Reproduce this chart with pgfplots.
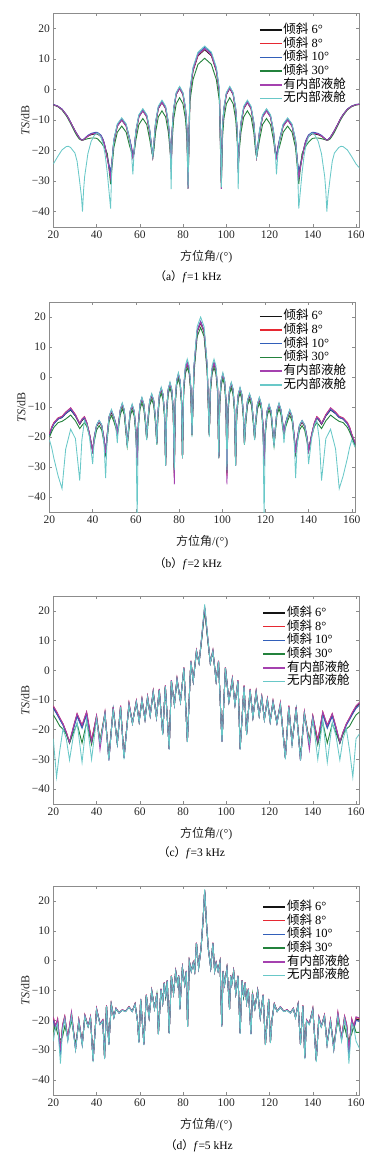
\documentclass[border=0pt]{standalone}
\usepackage{fontspec}
\setmainfont{Liberation Serif}
\newfontfamily\cjk{Noto Sans CJK SC}
\usepackage{pgfplots}
\usepackage{pgfplotstable}
\pgfplotsset{compat=1.18}
\definecolor{cK}{RGB}{20,20,20}
\definecolor{cR}{RGB}{230,40,50}
\definecolor{cB}{RGB}{50,95,185}
\definecolor{cG}{RGB}{35,130,60}
\definecolor{cP}{RGB}{165,65,175}
\definecolor{cC}{RGB}{105,200,200}

\pgfplotstableread{
x k r b g p c
20 -5.0 -5.0 -4.9 -5.1 -5.0 -24.4
22 -5.5 -5.5 -5.4 -5.6 -5.5 -22.0
24 -6.5 -6.5 -6.4 -6.7 -6.5 -19.8
26 -8.3 -8.3 -8.2 -8.6 -8.3 -18.7
27 -9.4 -9.4 -9.3 -9.8 -9.4 -18.6
28 -10.8 -10.8 -10.7 -11.2 -10.8 -19.0
30 -13.5 -13.5 -13.4 -14.0 -13.5 -20.8
31 -14.7 -14.7 -14.6 -15.2 -14.7 -23.5
32 -15.8 -15.8 -15.7 -16.2 -15.8 -29.0
33 -16.5 -16.5 -16.4 -16.6 -16.5 -35.0
33.5 -16.6 -16.6 -16.5 -16.6 -16.6 -40.0
34 -16.4 -16.4 -16.3 -16.5 -16.4 -33.0
34.5 -16.1 -16.1 -16.0 -16.4 -16.1 -28.5
36 -15.3 -15.2 -15.0 -16.1 -15.2 -21.0
37.5 -14.8 -14.6 -14.4 -15.9 -14.6 -17.0
39 -14.6 -14.3 -14.1 -15.9 -14.4 -15.0
40 -14.5 -14.2 -14.0 -16.0 -14.3 -14.4
40.5 -14.6 -14.3 -14.1 -16.2 -14.4 -14.3
42 -15.4 -15.1 -14.9 -17.3 -15.2 -15.5
43 -16.8 -16.5 -16.3 -18.3 -16.6 -17.8
43.5 -17.8 -17.5 -17.3 -18.8 -17.6 -19.5
44 -19.2 -19.0 -18.8 -19.4 -19.0 -21.5
45 -22.5 -22.3 -22.0 -21.0 -22.5 -27.5
46.5 -28.0 -28.0 -27.0 -31.0 -29.0 -39.0
47.1 -24.0 -23.8 -23.5 -26.0 -24.0 -24.5
48.0 -17.0 -16.8 -16.5 -19.0 -17.0 -16.3
49.6 -12.0 -11.8 -11.5 -14.0 -12.0 -11.3
51.65 -10.0 -9.8 -9.5 -12.0 -10.0 -9.3
53.7 -12.0 -11.8 -11.5 -14.0 -12.0 -11.3
55.3 -16.5 -16.3 -16.0 -18.5 -16.5 -16.3
56.2 -19.5 -19.3 -19.0 -20.5 -19.5 -21.5
56.8 -22.0 -22.0 -21.5 -22.0 -22.5 -27.8
57.35 -20.5 -20.3 -20.0 -21.0 -20.8 -20.5
58.2 -14.0 -13.8 -13.5 -16.5 -14.0 -13.3
59.56 -9.0 -8.8 -8.5 -11.5 -9.0 -8.3
61.4 -7.0 -6.8 -6.5 -9.5 -7.0 -6.3
63.24 -9.0 -8.8 -8.5 -11.5 -9.0 -8.3
64.62 -14.0 -13.8 -13.5 -16.5 -14.0 -13.3
65.45 -19.0 -18.8 -18.5 -20.0 -19.0 -19.0
66 -22.0 -22.0 -22.0 -22.0 -22.0 -22.0
66.5 -18.3 -18.1 -17.8 -20.0 -18.2 -17.5
67.3 -11.3 -11.1 -10.8 -14.0 -11.2 -10.5
68.55 -6.3 -6.1 -5.8 -9.0 -6.2 -5.5
70.25 -4.3 -4.1 -3.8 -7.0 -4.2 -3.5
71.95 -6.3 -6.1 -5.8 -9.0 -6.2 -5.5
73.2 -11.3 -11.1 -10.8 -14.0 -11.2 -10.5
74 -18.3 -18.1 -17.8 -20.0 -18.2 -17.5
74.5 -26.0 -26.0 -25.0 -24.0 -27.0 -32.6
74.97 -13.7 -13.5 -13.2 -16.7 -13.6 -13.0
75.67 -6.7 -6.5 -6.2 -9.7 -6.6 -6.0
76.84 -1.7 -1.5 -1.2 -4.7 -1.6 -1.0
78.4 0.3 0.5 0.8 -2.7 0.4 1.0
79.96 -1.7 -1.5 -1.2 -4.7 -1.6 -1.0
81.13 -6.7 -6.5 -6.2 -9.7 -6.6 -6.0
81.83 -13.7 -13.5 -13.2 -16.7 -13.6 -13.0
82.3 -30.0 -30.0 -29.0 -32.5 -32.5 -32.0
83.2 -1.0 -0.7 -0.2 -3.8 -0.7 0.2
84.6 6.0 6.3 6.8 3.2 6.3 7.2
86.9 11.0 11.3 11.8 8.2 11.3 12.2
90 13.0 13.3 13.8 10.2 13.3 14.2
93.1 11.0 11.3 11.8 8.2 11.3 12.2
95.4 6.0 6.3 6.8 3.2 6.3 7.2
96.8 -1.0 -0.7 -0.2 -3.8 -0.7 0.2
97.7 -30.0 -30.0 -29.0 -32.5 -32.5 -32.0
98.17 -13.7 -13.5 -13.2 -16.7 -13.6 -13.0
98.87 -6.7 -6.5 -6.2 -9.7 -6.6 -6.0
100.04 -1.7 -1.5 -1.2 -4.7 -1.6 -1.0
101.6 0.3 0.5 0.8 -2.7 0.4 1.0
103.16 -1.7 -1.5 -1.2 -4.7 -1.6 -1.0
104.33 -6.7 -6.5 -6.2 -9.7 -6.6 -6.0
105.03 -13.7 -13.5 -13.2 -16.7 -13.6 -13.0
105.5 -26.0 -26.0 -25.0 -24.0 -27.0 -32.6
106 -18.3 -18.1 -17.8 -20.0 -18.2 -17.5
106.8 -11.3 -11.1 -10.8 -14.0 -11.2 -10.5
108.05 -6.3 -6.1 -5.8 -9.0 -6.2 -5.5
109.75 -4.3 -4.1 -3.8 -7.0 -4.2 -3.5
111.45 -6.3 -6.1 -5.8 -9.0 -6.2 -5.5
112.7 -11.3 -11.1 -10.8 -14.0 -11.2 -10.5
113.5 -18.3 -18.1 -17.8 -20.0 -18.2 -17.5
114 -22.0 -22.0 -22.0 -22.0 -22.0 -22.0
114.55 -19.0 -18.8 -18.5 -20.0 -19.0 -19.0
115.38 -14.0 -13.8 -13.5 -16.5 -14.0 -13.3
116.76 -9.0 -8.8 -8.5 -11.5 -9.0 -8.3
118.6 -7.0 -6.8 -6.5 -9.5 -7.0 -6.3
120.44 -9.0 -8.8 -8.5 -11.5 -9.0 -8.3
121.8 -14.0 -13.8 -13.5 -16.5 -14.0 -13.3
122.65 -20.5 -20.3 -20.0 -21.0 -20.8 -20.5
123.2 -22.0 -22.0 -21.5 -22.0 -22.5 -27.8
123.8 -19.5 -19.3 -19.0 -20.5 -19.5 -21.5
124.7 -16.5 -16.3 -16.0 -18.5 -16.5 -16.3
126.3 -12.0 -11.8 -11.5 -14.0 -12.0 -11.3
128.35 -10.0 -9.8 -9.5 -12.0 -10.0 -9.3
130.4 -12.0 -11.8 -11.5 -14.0 -12.0 -11.3
132 -17.0 -16.8 -16.5 -19.0 -17.0 -16.3
132.9 -24.0 -23.8 -23.5 -26.0 -24.0 -24.5
133.5 -28.0 -28.0 -27.0 -31.0 -29.0 -39.0
135 -22.5 -22.3 -22.0 -21.0 -22.5 -27.5
136 -19.2 -19.0 -18.8 -19.4 -19.0 -21.5
136.5 -17.8 -17.5 -17.3 -18.8 -17.6 -19.5
137 -16.8 -16.5 -16.3 -18.3 -16.6 -17.8
138 -15.4 -15.1 -14.9 -17.3 -15.2 -15.5
139.5 -14.6 -14.3 -14.1 -16.2 -14.4 -14.3
140 -14.5 -14.2 -14.0 -16.0 -14.3 -14.4
141 -14.6 -14.3 -14.1 -15.9 -14.4 -15.0
142.5 -14.8 -14.6 -14.4 -15.9 -14.6 -17.0
144 -15.3 -15.2 -15.0 -16.1 -15.2 -21.0
145.5 -16.1 -16.1 -16.0 -16.4 -16.1 -28.5
146 -16.4 -16.4 -16.3 -16.5 -16.4 -33.0
146.5 -16.6 -16.6 -16.5 -16.6 -16.6 -40.0
147 -16.5 -16.5 -16.4 -16.6 -16.5 -35.0
148 -15.8 -15.8 -15.7 -16.2 -15.8 -29.0
149 -14.7 -14.7 -14.6 -15.2 -14.7 -23.5
150 -13.5 -13.5 -13.4 -14.0 -13.5 -20.8
152 -10.8 -10.8 -10.7 -11.2 -10.8 -19.0
153 -9.4 -9.4 -9.3 -9.8 -9.4 -18.6
154 -8.3 -8.3 -8.2 -8.6 -8.3 -18.7
156 -6.5 -6.5 -6.4 -6.7 -6.5 -19.8
158 -5.5 -5.5 -5.4 -5.6 -5.5 -22.0
160 -5.0 -5.0 -4.9 -5.1 -5.0 -24.4
162 -4.8 -4.8 -4.7 -4.9 -4.8 -26.0
}\tA

\pgfplotstableread{
x k r b g p c
20 -19.3 -19.0 -19.5 -20.0 -19.0 -21.0
21 -17.0 -16.7 -17.2 -18.3 -16.8 -23.5
22 -15.5 -15.2 -15.7 -16.8 -15.3 -27.0
24 -14.0 -13.6 -14.0 -15.2 -13.7 -33.0
25.8 -13.5 -13.1 -13.5 -14.8 -13.2 -37.2
27.5 -12.2 -11.7 -12.2 -14.0 -11.8 -24.0
29.8 -11.0 -10.3 -10.8 -12.7 -10.3 -17.4
32 -13.0 -12.5 -12.9 -14.6 -12.6 -20.5
34 -15.8 -15.5 -15.6 -17.2 -15.5 -34.5
35 -14.6 -14.0 -14.3 -16.2 -14.1 -21.0
36.2 -13.6 -13.2 -13.5 -15.2 -13.3 -14.5
37.3 -15.5 -15.2 -15.4 -16.5 -15.3 -16.0
38.5 -19.0 -18.8 -19.0 -19.5 -18.9 -20.0
40 -24.6 -24.6 -24.6 -24.6 -24.6 -29.0
40.72 -20.5 -20.2 -20.0 -21.5 -20.2 -21.0
41.8 -16.5 -16.2 -16.0 -17.7 -16.2 -16.0
43 -15.0 -14.7 -14.5 -16.2 -14.7 -14.5
44.2 -16.5 -16.2 -16.0 -17.7 -16.2 -16.0
45.28 -21.0 -20.7 -20.5 -22.0 -20.7 -22.5
46 -25.4 -25.4 -25.0 -25.4 -25.4 -33.7
46.65 -20.1 -19.8 -19.6 -21.3 -19.8 -21.0
47.62 -13.6 -13.3 -13.1 -14.8 -13.3 -13.1
48.7 -11.6 -11.3 -11.1 -12.8 -11.3 -10.8
49.78 -13.6 -13.3 -13.1 -14.8 -13.3 -13.1
50.75 -16.0 -15.7 -15.5 -17.0 -15.7 -16.5
51.4 -19.0 -19.0 -18.5 -19.5 -19.0 -22.0
51.95 -16.0 -15.7 -15.5 -17.2 -15.7 -16.5
52.78 -11.4 -11.1 -10.9 -12.6 -11.1 -10.9
53.7 -9.4 -9.1 -8.9 -10.6 -9.1 -8.6
54.62 -11.4 -11.1 -10.9 -12.6 -11.1 -10.9
55.45 -17.9 -17.6 -17.4 -18.9 -17.6 -17.4
56 -22.6 -22.6 -22.0 -23.0 -22.6 -23.5
56.55 -18.3 -18.0 -17.8 -19.5 -18.0 -17.8
57.38 -11.8 -11.5 -11.3 -13.0 -11.5 -11.3
58.3 -9.8 -9.5 -9.3 -11.0 -9.5 -9.0
59.22 -11.8 -11.5 -11.3 -13.0 -11.5 -11.3
60.05 -18.3 -18.0 -17.8 -19.5 -18.0 -18.5
60.6 -29.0 -29.0 -28.0 -29.5 -29.5 -47.0
61.13 -16.0 -15.7 -15.5 -17.2 -15.7 -17.0
61.92 -9.5 -9.2 -9.0 -10.7 -9.2 -9.0
62.8 -7.5 -7.2 -7.0 -8.7 -7.2 -6.7
63.68 -9.5 -9.2 -9.0 -10.7 -9.2 -9.0
64.47 -15.0 -14.7 -14.5 -16.0 -14.7 -14.5
65 -20.4 -20.4 -20.0 -20.8 -20.4 -21.0
65.56 -14.8 -14.5 -14.3 -16.0 -14.5 -14.3
66.41 -8.3 -8.0 -7.8 -9.5 -8.0 -7.8
67.35 -6.3 -6.0 -5.8 -7.5 -6.0 -5.5
68.29 -8.3 -8.0 -7.8 -9.5 -8.0 -7.8
69.14 -14.8 -14.5 -14.3 -16.0 -14.5 -14.3
69.7 -22.0 -22.0 -21.5 -22.5 -22.0 -22.5
70.19 -12.7 -12.4 -12.2 -13.9 -12.4 -12.2
70.93 -6.2 -5.9 -5.7 -7.4 -5.9 -5.7
71.75 -4.2 -3.9 -3.7 -5.4 -3.9 -3.4
72.57 -6.2 -5.9 -5.7 -7.4 -5.9 -5.7
73.31 -12.7 -12.4 -12.2 -13.9 -12.4 -12.2
73.8 -29.2 -29.2 -28.5 -29.5 -29.5 -29.5
74.28 -11.0 -10.7 -10.5 -12.2 -10.7 -10.5
75 -4.5 -4.2 -4.0 -5.7 -4.2 -4.0
75.8 -2.5 -2.2 -2.0 -3.7 -2.2 -1.7
76.6 -4.5 -4.2 -4.0 -5.7 -4.2 -4.0
77.32 -11.0 -10.7 -10.5 -12.2 -10.7 -10.5
77.8 -32.0 -33.0 -31.0 -32.0 -35.8 -31.0
78.26 -8.0 -7.7 -7.5 -9.2 -7.7 -7.5
78.94 -1.5 -1.2 -1.0 -2.7 -1.2 -1.0
79.7 0.5 0.8 1.0 -0.7 0.8 1.5
80.46 -1.5 -1.2 -1.0 -2.7 -1.2 -1.0
81.14 -8.0 -7.7 -7.5 -9.2 -7.7 -7.5
81.6 -27.0 -27.0 -26.5 -27.0 -27.0 -27.0
82.13 -4.2 -3.9 -3.7 -5.4 -3.9 -3.2
82.92 2.3 2.6 2.8 1.1 2.6 3.8
83.8 4.3 4.6 4.8 3.1 4.6 6.0
84.68 2.3 2.6 2.8 1.1 2.6 3.8
85.47 -4.2 -3.9 -3.7 -5.4 -3.9 -3.2
86 -19.3 -19.3 -19.0 -19.5 -19.3 -20.0
86.96 3.0 3.3 3.5 1.5 3.3 4.5
88.4 15.0 15.3 15.6 13.5 15.3 16.8
90 18.0 18.3 18.6 16.5 18.3 20.0
91.6 15.0 15.3 15.6 13.5 15.3 16.8
93.04 3.0 3.3 3.5 1.5 3.3 4.5
94 -19.3 -19.3 -19.0 -19.5 -19.3 -20.0
94.53 -4.2 -3.9 -3.7 -5.4 -3.9 -3.2
95.32 2.3 2.6 2.8 1.1 2.6 3.8
96.2 4.3 4.6 4.8 3.1 4.6 6.0
97.08 2.3 2.6 2.8 1.1 2.6 3.8
97.87 -4.2 -3.9 -3.7 -5.4 -3.9 -3.2
98.4 -27.0 -27.0 -26.5 -27.0 -27.0 -27.0
98.86 -8.0 -7.7 -7.5 -9.2 -7.7 -7.5
99.54 -1.5 -1.2 -1.0 -2.7 -1.2 -1.0
100.3 0.5 0.8 1.0 -0.7 0.8 1.5
101.06 -1.5 -1.2 -1.0 -2.7 -1.2 -1.0
101.74 -8.0 -7.7 -7.5 -9.2 -7.7 -7.5
102.2 -32.0 -33.0 -31.0 -32.0 -35.8 -31.0
102.68 -11.0 -10.7 -10.5 -12.2 -10.7 -10.5
103.4 -4.5 -4.2 -4.0 -5.7 -4.2 -4.0
104.2 -2.5 -2.2 -2.0 -3.7 -2.2 -1.7
105 -4.5 -4.2 -4.0 -5.7 -4.2 -4.0
105.72 -11.0 -10.7 -10.5 -12.2 -10.7 -10.5
106.2 -29.2 -29.2 -28.5 -29.5 -29.5 -29.5
106.69 -12.7 -12.4 -12.2 -13.9 -12.4 -12.2
107.43 -6.2 -5.9 -5.7 -7.4 -5.9 -5.7
108.25 -4.2 -3.9 -3.7 -5.4 -3.9 -3.4
109.07 -6.2 -5.9 -5.7 -7.4 -5.9 -5.7
109.81 -12.7 -12.4 -12.2 -13.9 -12.4 -12.2
110.3 -22.0 -22.0 -21.5 -22.5 -22.0 -22.5
110.86 -14.8 -14.5 -14.3 -16.0 -14.5 -14.3
111.71 -8.3 -8.0 -7.8 -9.5 -8.0 -7.8
112.65 -6.3 -6.0 -5.8 -7.5 -6.0 -5.5
113.59 -8.3 -8.0 -7.8 -9.5 -8.0 -7.8
114.44 -14.8 -14.5 -14.3 -16.0 -14.5 -14.3
115 -20.4 -20.4 -20.0 -20.8 -20.4 -21.0
115.53 -15.0 -14.7 -14.5 -16.0 -14.7 -14.5
116.32 -9.5 -9.2 -9.0 -10.7 -9.2 -9.0
117.2 -7.5 -7.2 -7.0 -8.7 -7.2 -6.7
118.08 -9.5 -9.2 -9.0 -10.7 -9.2 -9.0
118.87 -16.0 -15.7 -15.5 -17.2 -15.7 -17.0
119.4 -29.0 -29.0 -28.0 -29.5 -29.5 -47.0
119.95 -18.3 -18.0 -17.8 -19.5 -18.0 -18.5
120.78 -11.8 -11.5 -11.3 -13.0 -11.5 -11.3
121.7 -9.8 -9.5 -9.3 -11.0 -9.5 -9.0
122.62 -11.8 -11.5 -11.3 -13.0 -11.5 -11.3
123.45 -18.3 -18.0 -17.8 -19.5 -18.0 -17.8
124 -22.6 -22.6 -22.0 -23.0 -22.6 -23.5
124.55 -17.9 -17.6 -17.4 -18.9 -17.6 -17.4
125.38 -11.4 -11.1 -10.9 -12.6 -11.1 -10.9
126.3 -9.4 -9.1 -8.9 -10.6 -9.1 -8.6
127.22 -11.4 -11.1 -10.9 -12.6 -11.1 -10.9
128.05 -16.0 -15.7 -15.5 -17.2 -15.7 -16.5
128.6 -19.0 -19.0 -18.5 -19.5 -19.0 -22.0
129.25 -16.0 -15.7 -15.5 -17.0 -15.7 -16.5
130.22 -13.6 -13.3 -13.1 -14.8 -13.3 -13.1
131.3 -11.6 -11.3 -11.1 -12.8 -11.3 -10.8
132.38 -13.6 -13.3 -13.1 -14.8 -13.3 -13.1
133.35 -20.1 -19.8 -19.6 -21.3 -19.8 -21.0
134 -25.4 -25.4 -25.0 -25.4 -25.4 -33.7
134.72 -21.0 -20.7 -20.5 -22.0 -20.7 -22.5
135.8 -16.5 -16.2 -16.0 -17.7 -16.2 -16.0
137 -15.0 -14.7 -14.5 -16.2 -14.7 -14.5
138.2 -16.5 -16.2 -16.0 -17.7 -16.2 -16.0
139.28 -20.5 -20.2 -20.0 -21.5 -20.2 -21.0
140 -24.6 -24.6 -24.6 -24.6 -24.6 -29.0
141.5 -19.0 -18.8 -19.0 -19.5 -18.9 -20.0
142.7 -15.5 -15.2 -15.4 -16.5 -15.3 -16.0
143.8 -13.6 -13.2 -13.5 -15.2 -13.3 -14.5
145 -14.6 -14.0 -14.3 -16.2 -14.1 -21.0
146 -15.8 -15.5 -15.6 -17.2 -15.5 -34.5
148 -13.0 -12.5 -12.9 -14.6 -12.6 -20.5
150.2 -11.0 -10.3 -10.8 -12.7 -10.3 -17.4
152.5 -12.2 -11.7 -12.2 -14.0 -11.8 -24.0
154.2 -13.5 -13.1 -13.5 -14.8 -13.2 -37.2
156 -14.0 -13.6 -14.0 -15.2 -13.7 -33.0
158 -15.5 -15.2 -15.7 -16.8 -15.3 -27.0
159 -17.0 -16.7 -17.2 -18.3 -16.8 -23.5
160 -19.3 -19.0 -19.5 -20.0 -19.0 -21.0
162 -23.0 -22.7 -23.2 -24.0 -22.7 -24.0
}\tB

\pgfplotstableread{
x k r b g p c
20 -12.4 -12.0 -12.8 -15.0 -12.0 -23.0
21.5 -14.3 -13.9 -14.6 -16.8 -13.9 -36.0
23 -16.3 -16.0 -16.6 -18.8 -16.0 -27.0
24.5 -18.3 -18.0 -18.5 -19.8 -18.0 -19.7
26 -21.0 -20.8 -21.2 -21.5 -20.8 -23.0
27.5 -24.4 -24.2 -24.5 -24.5 -24.2 -30.2
29.3 -19.5 -19.0 -19.8 -21.0 -19.0 -22.0
31 -15.0 -14.6 -15.5 -18.0 -14.6 -17.5
33.3 -19.0 -18.5 -19.5 -24.5 -18.5 -31.0
35.4 -14.5 -14.0 -15.0 -17.5 -14.0 -16.5
37.7 -24.0 -23.5 -24.5 -25.0 -24.0 -30.0
40 -15.6 -15.3 -15.9 -16.5 -15.3 -16.3
41.6 -24.0 -24.0 -24.5 -24.0 -26.7 -24.5
43.9 -14.4 -14.1 -14.7 -15.0 -14.1 -14.6
45.7 -30.0 -30.0 -30.0 -29.0 -30.4 -30.4
47.7 -12.7 -12.4 -13.0 -13.2 -12.4 -12.9
49.6 -24.7 -24.7 -24.7 -24.0 -24.7 -24.7
51.1 -12.2 -11.9 -12.5 -12.6 -11.9 -12.4
52.7 -29.5 -29.5 -29.5 -29.0 -29.5 -30.0
55 -11.3 -11.0 -11.6 -11.7 -11.0 -11.5
56.6 -17.8 -17.8 -17.8 -17.5 -17.8 -18.0
58.4 -10.5 -10.3 -10.7 -10.9 -10.3 -10.6
59.7 -17.2 -17.2 -17.2 -17.0 -17.2 -17.5
61 -9.8 -9.6 -10.0 -10.2 -9.6 -9.9
62.4 -16.5 -16.5 -16.5 -16.3 -16.5 -16.8
63.6 -9.0 -8.8 -9.2 -9.4 -8.8 -9.1
64.8 -15.2 -15.2 -15.2 -15.0 -15.2 -15.5
66.2 -7.2 -7.0 -7.4 -7.6 -7.0 -7.3
67.7 -15.8 -15.8 -15.8 -15.6 -15.8 -16.0
69 -6.5 -6.3 -6.7 -6.9 -6.3 -6.6
70.6 -21.5 -21.5 -21.5 -21.0 -21.5 -21.8
71.8 -5.3 -5.1 -5.5 -5.7 -5.1 -5.4
73.6 -26.5 -26.5 -26.5 -26.0 -26.5 -26.7
74.6 -3.5 -3.3 -3.7 -3.9 -3.3 -3.6
76 -11.5 -11.5 -11.5 -11.3 -11.5 -11.8
77.2 -2.9 -2.7 -3.1 -3.3 -2.7 -3.0
78.8 -10.5 -10.5 -10.5 -10.3 -10.5 -10.8
80.4 0.8 1.0 0.6 0.4 1.0 0.8
82 -24.0 -24.0 -24.0 -23.5 -24.0 -24.2
83.6 3.0 3.2 2.8 2.6 3.2 3.0
84.7 -3.6 -3.6 -3.6 -3.4 -3.6 -3.8
86.2 6.5 6.7 6.3 6.1 6.7 6.5
87.4 2.5 2.5 2.5 2.7 2.5 2.3
88.5 10.0 10.2 9.8 9.6 10.2 10.5
90 21.0 21.3 20.8 20.3 21.3 22.2
91.5 10.0 10.2 9.8 9.6 10.2 10.5
92.6 2.5 2.5 2.5 2.7 2.5 2.3
93.8 6.5 6.7 6.3 6.1 6.7 6.5
95.3 -3.6 -3.6 -3.6 -3.4 -3.6 -3.8
96.4 3.0 3.2 2.8 2.6 3.2 3.0
98 -24.0 -24.0 -24.0 -23.5 -24.0 -24.2
99.6 0.8 1.0 0.6 0.4 1.0 0.8
101.2 -10.5 -10.5 -10.5 -10.3 -10.5 -10.8
102.8 -2.9 -2.7 -3.1 -3.3 -2.7 -3.0
104 -11.5 -11.5 -11.5 -11.3 -11.5 -11.8
105.4 -3.5 -3.3 -3.7 -3.9 -3.3 -3.6
106.4 -26.5 -26.5 -26.5 -26.0 -26.5 -26.7
108.2 -5.3 -5.1 -5.5 -5.7 -5.1 -5.4
109.4 -21.5 -21.5 -21.5 -21.0 -21.5 -21.8
111 -6.5 -6.3 -6.7 -6.9 -6.3 -6.6
112.3 -15.8 -15.8 -15.8 -15.6 -15.8 -16.0
113.8 -7.2 -7.0 -7.4 -7.6 -7.0 -7.3
115.2 -15.2 -15.2 -15.2 -15.0 -15.2 -15.5
116.4 -9.0 -8.8 -9.2 -9.4 -8.8 -9.1
117.6 -16.5 -16.5 -16.5 -16.3 -16.5 -16.8
119 -9.8 -9.6 -10.0 -10.2 -9.6 -9.9
120.3 -17.2 -17.2 -17.2 -17.0 -17.2 -17.5
121.6 -10.5 -10.3 -10.7 -10.9 -10.3 -10.6
123.4 -17.8 -17.8 -17.8 -17.5 -17.8 -18.0
125 -11.3 -11.0 -11.6 -11.7 -11.0 -11.5
127.3 -29.5 -29.5 -29.5 -29.0 -29.5 -30.0
128.9 -12.2 -11.9 -12.5 -12.6 -11.9 -12.4
130.4 -24.7 -24.7 -24.7 -24.0 -24.7 -24.7
132.3 -12.7 -12.4 -13.0 -13.2 -12.4 -12.9
134.3 -30.0 -30.0 -30.0 -29.0 -30.4 -30.4
136.1 -14.4 -14.1 -14.7 -15.0 -14.1 -14.6
138.4 -24.0 -24.0 -24.5 -24.0 -26.7 -24.5
140 -15.6 -15.3 -15.9 -16.5 -15.3 -16.3
142.3 -24.0 -23.5 -24.5 -25.0 -24.0 -30.0
144.6 -14.5 -14.0 -15.0 -17.5 -14.0 -16.5
146.7 -19.0 -18.5 -19.5 -24.5 -18.5 -31.0
149 -15.0 -14.6 -15.5 -18.0 -14.6 -17.5
150.7 -19.5 -19.0 -19.8 -21.0 -19.0 -22.0
152.5 -24.4 -24.2 -24.5 -24.5 -24.2 -30.2
154 -21.0 -20.8 -21.2 -21.5 -20.8 -23.0
155.5 -18.3 -18.0 -18.5 -19.8 -18.0 -19.7
157 -16.3 -16.0 -16.6 -18.8 -16.0 -27.0
158.5 -14.3 -13.9 -14.6 -16.8 -13.9 -36.0
160 -12.4 -12.0 -12.8 -15.0 -12.0 -23.0
162 -11.0 -10.6 -11.4 -13.8 -10.6 -21.0
}\tC

\pgfplotstableread{
x k r b g p c
20 -19.5 -19.0 -20.0 -24.0 -18.8 -27.0
21 -22.5 -22.0 -23.0 -21.5 -22.0 -22.5
22 -20.0 -19.5 -20.5 -24.5 -19.5 -21.0
23.3 -30.0 -30.0 -32.0 -26.5 -30.0 -34.5
24.3 -22.0 -21.5 -22.5 -25.5 -21.5 -23.0
25.3 -19.0 -18.6 -19.5 -22.0 -18.6 -19.5
26.7 -26.0 -26.0 -26.5 -25.5 -26.0 -27.0
28.4 -18.0 -17.5 -18.5 -20.0 -17.2 -18.5
30.3 -29.5 -29.5 -29.5 -28.0 -29.5 -30.0
31.8 -20.0 -19.8 -20.3 -21.0 -19.8 -20.3
33.4 -28.0 -28.0 -28.0 -27.5 -28.0 -28.5
34.6 -18.4 -18.2 -18.6 -19.0 -18.2 -18.6
36.1 -22.0 -22.0 -22.0 -22.0 -22.0 -22.3
37.2 -19.0 -18.8 -19.2 -19.4 -18.8 -19.2
38.4 -33.5 -33.5 -33.5 -33.0 -33.5 -34.0
40 -16.2 -16.0 -16.4 -16.5 -16.0 -16.4
41.6 -21.2 -21.2 -21.2 -21.0 -21.2 -21.5
42.9 -20.0 -19.8 -20.2 -20.3 -19.8 -20.2
43.7 -32.5 -32.5 -32.5 -32.0 -32.5 -33.0
44.6 -15.1 -15.0 -15.2 -15.3 -15.0 -15.2
45.7 -28.0 -28.0 -28.0 -27.5 -28.0 -28.3
46.8 -14.6 -14.5 -14.7 -14.8 -14.5 -14.7
48 -19.0 -19.0 -19.0 -18.8 -19.0 -19.2
49 -16.0 -15.9 -16.1 -16.2 -15.9 -16.1
50.4 -17.5 -17.5 -17.5 -17.4 -17.5 -17.6
51.9 -16.5 -16.4 -16.6 -16.6 -16.4 -16.6
53.4 -17.0 -17.0 -17.0 -16.9 -17.0 -17.1
55 -15.5 -15.4 -15.6 -15.6 -15.4 -15.6
56.5 -17.0 -17.0 -17.0 -16.9 -17.0 -17.1
57.8 -14.5 -14.4 -14.6 -14.6 -14.4 -14.6
58.9 -20.0 -20.0 -20.0 -19.8 -20.0 -20.2
59.6 -27.3 -27.3 -27.3 -27.0 -27.3 -27.6
60.4 -12.9 -12.8 -13.0 -13.0 -12.8 -13.0
61.9 -28.0 -28.0 -28.0 -27.5 -28.0 -28.3
63 -11.5 -11.4 -11.6 -11.6 -11.4 -11.6
64.3 -19.0 -19.0 -19.0 -18.8 -19.0 -19.2
65.5 -10.0 -9.9 -10.1 -10.1 -9.9 -10.1
66.8 -16.0 -16.0 -16.0 -15.8 -16.0 -16.2
67.9 -11.0 -10.9 -11.1 -11.1 -10.9 -11.1
68.6 -24.5 -24.5 -24.5 -24.0 -24.5 -24.8
69.8 -9.5 -9.4 -9.6 -9.6 -9.4 -9.6
70.6 -14.0 -14.0 -14.0 -13.8 -14.0 -14.2
71.3 -7.4 -7.3 -7.5 -7.5 -7.3 -7.5
72.0 -12.0 -12.0 -12.0 -11.8 -12.0 -12.2
72.7 -6.6 -6.5 -6.7 -6.7 -6.5 -6.7
73.6 -24.3 -24.3 -24.3 -24.0 -24.3 -24.5
74.6 -5.1 -5.0 -5.2 -5.2 -5.0 -5.2
75.6 -11.0 -11.0 -11.0 -10.8 -11.0 -11.2
76.6 -3.5 -3.4 -3.6 -3.6 -3.4 -3.6
77.5 -8.0 -8.0 -8.0 -7.8 -8.0 -8.2
78.0 -5.0 -4.9 -5.1 -5.1 -4.9 -5.1
78.5 -16.2 -16.2 -16.2 -16.0 -16.2 -16.4
79.7 -2.4 -2.3 -2.5 -2.5 -2.3 -2.5
80.8 -8.0 -8.0 -8.0 -7.8 -8.0 -8.2
81.5 -3.5 -3.4 -3.6 -3.6 -3.4 -3.6
82.1 -22.0 -22.0 -22.0 -21.5 -22.0 -22.2
82.9 -0.2 -0.1 -0.3 -0.3 -0.1 -0.3
83.8 -3.5 -3.5 -3.5 -3.3 -3.5 -3.7
84.7 -0.7 -0.6 -0.8 -0.8 -0.6 -0.8
85.4 -3.5 -3.5 -3.5 -3.3 -3.5 -3.7
86.2 5.9 6.0 5.8 5.8 6.0 5.8
87.2 -2.4 -2.4 -2.4 -2.2 -2.4 -2.6
88.3 4.0 4.1 3.9 3.9 4.1 4.0
89.2 13.0 13.1 12.9 12.8 13.1 13.2
90 23.5 23.6 23.4 23.2 23.6 23.9
90.8 13.0 13.1 12.9 12.8 13.1 13.2
91.7 4.0 4.1 3.9 3.9 4.1 4.0
92.8 -2.4 -2.4 -2.4 -2.2 -2.4 -2.6
93.8 5.9 6.0 5.8 5.8 6.0 5.8
94.6 -3.5 -3.5 -3.5 -3.3 -3.5 -3.7
95.3 -0.7 -0.6 -0.8 -0.8 -0.6 -0.8
96.2 -3.5 -3.5 -3.5 -3.3 -3.5 -3.7
97.1 -0.2 -0.1 -0.3 -0.3 -0.1 -0.3
97.9 -22.0 -22.0 -22.0 -21.5 -22.0 -22.2
98.5 -3.5 -3.4 -3.6 -3.6 -3.4 -3.6
99.2 -8.0 -8.0 -8.0 -7.8 -8.0 -8.2
100.3 -2.4 -2.3 -2.5 -2.5 -2.3 -2.5
101.5 -16.2 -16.2 -16.2 -16.0 -16.2 -16.4
102 -5.0 -4.9 -5.1 -5.1 -4.9 -5.1
102.5 -8.0 -8.0 -8.0 -7.8 -8.0 -8.2
103.4 -3.5 -3.4 -3.6 -3.6 -3.4 -3.6
104.4 -11.0 -11.0 -11.0 -10.8 -11.0 -11.2
105.4 -5.1 -5.0 -5.2 -5.2 -5.0 -5.2
106.4 -24.3 -24.3 -24.3 -24.0 -24.3 -24.5
107.3 -6.6 -6.5 -6.7 -6.7 -6.5 -6.7
108 -12.0 -12.0 -12.0 -11.8 -12.0 -12.2
108.7 -7.4 -7.3 -7.5 -7.5 -7.3 -7.5
109.4 -14.0 -14.0 -14.0 -13.8 -14.0 -14.2
110.2 -9.5 -9.4 -9.6 -9.6 -9.4 -9.6
111.4 -24.5 -24.5 -24.5 -24.0 -24.5 -24.8
112.1 -11.0 -10.9 -11.1 -11.1 -10.9 -11.1
113.2 -16.0 -16.0 -16.0 -15.8 -16.0 -16.2
114.5 -10.0 -9.9 -10.1 -10.1 -9.9 -10.1
115.7 -19.0 -19.0 -19.0 -18.8 -19.0 -19.2
117 -11.5 -11.4 -11.6 -11.6 -11.4 -11.6
118.1 -28.0 -28.0 -28.0 -27.5 -28.0 -28.3
119.6 -12.9 -12.8 -13.0 -13.0 -12.8 -13.0
120.4 -27.3 -27.3 -27.3 -27.0 -27.3 -27.6
121.1 -20.0 -20.0 -20.0 -19.8 -20.0 -20.2
122.2 -14.5 -14.4 -14.6 -14.6 -14.4 -14.6
123.5 -17.0 -17.0 -17.0 -16.9 -17.0 -17.1
125 -15.5 -15.4 -15.6 -15.6 -15.4 -15.6
126.6 -17.0 -17.0 -17.0 -16.9 -17.0 -17.1
128.1 -16.5 -16.4 -16.6 -16.6 -16.4 -16.6
129.6 -17.5 -17.5 -17.5 -17.4 -17.5 -17.6
131 -16.0 -15.9 -16.1 -16.2 -15.9 -16.1
132 -19.0 -19.0 -19.0 -18.8 -19.0 -19.2
133.2 -14.6 -14.5 -14.7 -14.8 -14.5 -14.7
134.3 -28.0 -28.0 -28.0 -27.5 -28.0 -28.3
135.4 -15.1 -15.0 -15.2 -15.3 -15.0 -15.2
136.3 -32.5 -32.5 -32.5 -32.0 -32.5 -33.0
137.1 -20.0 -19.8 -20.2 -20.3 -19.8 -20.2
138.4 -21.2 -21.2 -21.2 -21.0 -21.2 -21.5
140 -16.2 -16.0 -16.4 -16.5 -16.0 -16.4
141.6 -33.5 -33.5 -33.5 -33.0 -33.5 -34.0
142.8 -19.0 -18.8 -19.2 -19.4 -18.8 -19.2
143.9 -22.0 -22.0 -22.0 -22.0 -22.0 -22.3
145.4 -18.4 -18.2 -18.6 -19.0 -18.2 -18.6
146.6 -28.0 -28.0 -28.0 -27.5 -28.0 -28.5
148.2 -20.0 -19.8 -20.3 -21.0 -19.8 -20.3
149.7 -29.5 -29.5 -29.5 -28.0 -29.5 -30.0
151.6 -18.0 -17.5 -18.5 -20.0 -17.2 -18.5
153.3 -26.0 -26.0 -26.5 -25.5 -26.0 -27.0
154.7 -19.0 -18.6 -19.5 -22.0 -18.6 -19.5
155.7 -22.0 -21.5 -22.5 -25.5 -21.5 -23.0
156.7 -30.0 -30.0 -32.0 -26.5 -30.0 -34.5
158 -20.0 -19.5 -20.5 -24.5 -19.5 -21.0
159 -22.5 -22.0 -23.0 -21.5 -22.0 -22.5
160 -19.5 -19.0 -20.0 -24.0 -18.8 -27.0
162 -20.0 -19.5 -20.5 -24.0 -19.3 -30.0
}\tD

\pgfplotsset{
  myaxis/.style={
    scale only axis,
    xmin=20, xmax=161.5, ymin=-45, ymax=25,
    xtick={20,40,...,160}, ytick={-40,-30,...,20},
    yticklabels={−40,−30,−20,−10,0,10,20},
    /pgf/number format/assume math mode=true,
    tick align=inside,
    major tick length=3pt,
    axis line style={draw=black!45, line width=0.6pt},
    tick style={black!45, line width=0.5pt},
    tick label style={font=\fontsize{11.5}{12}\selectfont, text=black!85},
    xlabel={{\cjk 方位角}/(°)},
    ylabel={\textit{TS}/dB},
    label style={font=\fontsize{12}{13}\selectfont, text=black!85},
    xlabel style={at={(axis description cs:0.5,0)}, anchor=center, yshift=-30pt},
    ylabel style={at={(axis description cs:-0.092,0.5)}, anchor=center},
    legend cell align=left,
    legend style={draw=none, fill=none, font=\fontsize{12.5}{13}\selectfont,
      row sep=0pt, nodes={inner sep=0.85pt, text height=9.5pt, text depth=2.5pt}},
    legend image code/.code={\draw[#1, line width=1.5pt] (0pt,0pt) -- (22pt,0pt);},
  },
}
\newcommand{\sixplots}[1]{%
  \addplot[cK, line width=0.9pt] table[x=x,y=k]{#1};
  \addplot[cR, line width=0.9pt] table[x=x,y=r]{#1};
  \addplot[cB, line width=0.9pt] table[x=x,y=b]{#1};
  \addplot[cG, line width=0.9pt] table[x=x,y=g]{#1};
  \addplot[cP, line width=0.9pt] table[x=x,y=p]{#1};
  \addplot[cC, line width=0.85pt] table[x=x,y=c]{#1};
  \legend{{\cjk 倾斜} 6°,{\cjk 倾斜} 8°,{\cjk 倾斜} 10°,{\cjk 倾斜} 30°,{\cjk 有内部液舱},{\cjk 无内部液舱}}
}

\begin{document}
\begin{tikzpicture}
\path[use as bounding box] (0,0) rectangle (386pt,-1171pt);

\begin{axis}[myaxis, at={(53.3pt,-13pt)}, anchor=north west, width=306pt, height=214pt,
  legend style={at={(0.662,0.963)}, anchor=north west}]
\sixplots{\tA}
\end{axis}
\node[font=\fontsize{11.5}{13}\selectfont] at (188pt,-277pt) {{\cjk （}a{\cjk ）}\textit{f}=1 kHz};

\begin{axis}[myaxis, at={(49.5pt,-302pt)}, anchor=north west, width=305.5pt, height=210pt,
  legend style={at={(0.676,0.975)}, anchor=north west}]
\sixplots{\tB}
\end{axis}
\node[font=\fontsize{11.5}{13}\selectfont] at (188pt,-564pt) {{\cjk （}b{\cjk ）}\textit{f}=2 kHz};

\begin{axis}[myaxis, at={(53.3pt,-596pt)}, anchor=north west, width=306pt, height=208pt,
  legend style={at={(0.674,0.962)}, anchor=north west}]
\sixplots{\tC}
\end{axis}
\node[font=\fontsize{11.5}{13}\selectfont] at (191.5pt,-853pt) {{\cjk （}c{\cjk ）}\textit{f}=3 kHz};

\begin{axis}[myaxis, at={(53.3pt,-886pt)}, anchor=north west, width=306pt, height=209pt,
  legend style={at={(0.674,0.943)}, anchor=north west}]
\sixplots{\tD}
\end{axis}
\node[font=\fontsize{11.5}{13}\selectfont] at (199pt,-1146pt) {{\cjk （}d{\cjk ）}\textit{f}=5 kHz};
\end{tikzpicture}
\end{document}
